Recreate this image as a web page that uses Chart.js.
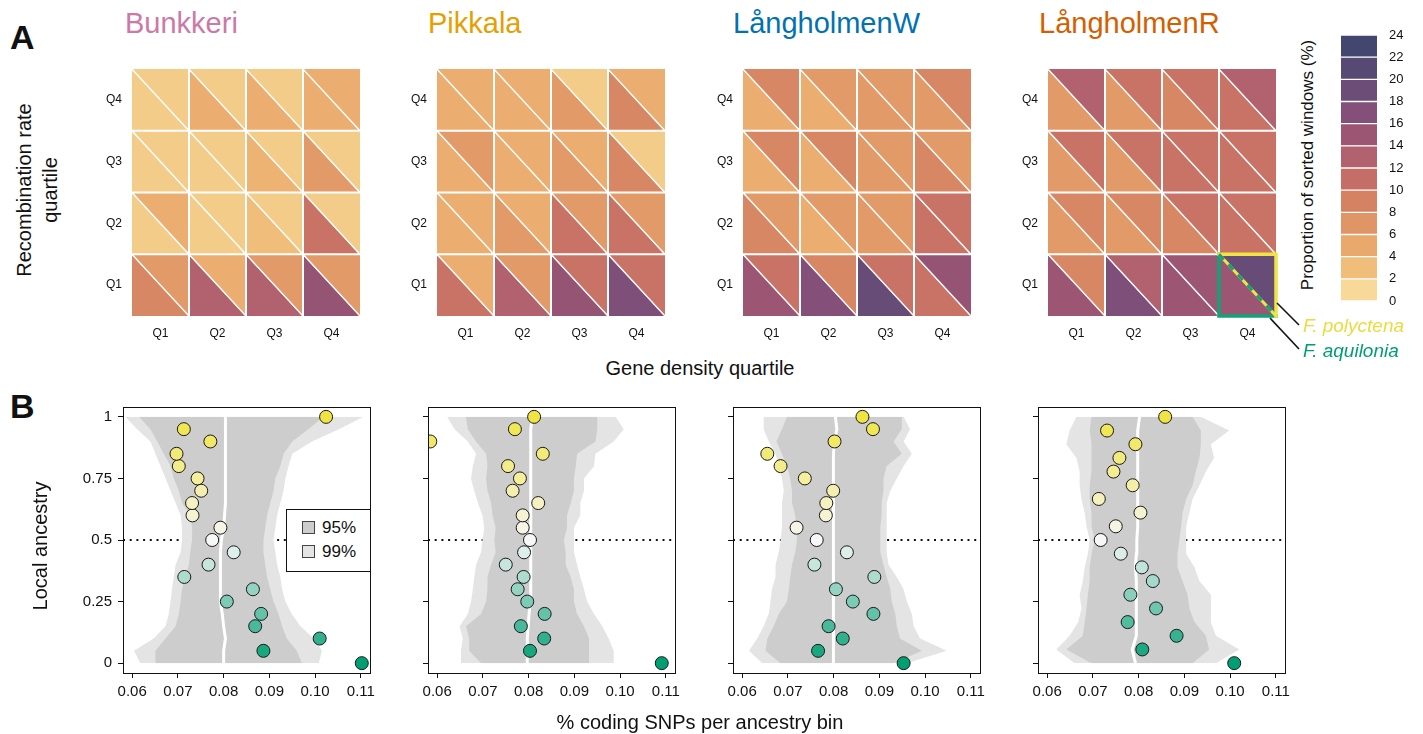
<!DOCTYPE html>
<html lang="en">
<head>
    <meta charset="UTF-8">
    <title>Sorted windows and coding SNPs by local ancestry</title>
    <script src="https://cdn.jsdelivr.net/npm/chart.js"></script>
    <style>
        body { margin: 0; background: #fff; font-family: Helvetica, Arial, "Liberation Sans", sans-serif; color: #111; }
        #fig { position: relative; width: 1423px; height: 734px; overflow: hidden; }
        canvas, .txt, .legend, svg { position: absolute; }
        .txt { white-space: nowrap; line-height: 1; }
        .mid { transform: translate(-50%, -50%); }
        .rot { transform: translate(-50%, -50%) rotate(-90deg); text-align: center; }
        .title { font-size: 29px; }
        .panel { font-size: 34px; font-weight: bold; }
        .axis { font-size: 20px; }
        .legend { left: 286px; top: 509px; width: 83px; height: 61px; border: 1px solid #111; background: #fff; }
        .legend .sw { position: absolute; left: 15px; width: 11px; height: 11px; border: 1px solid #444; }
        .legend .lt { position: absolute; left: 35px; font-size: 17px; line-height: 1; }
    </style>
</head>
<body>
<div id="fig">
    <div class="txt panel" style="left:10px;top:20px">A</div>
    <div class="txt panel" style="left:10px;top:389px">B</div>

    <div class="txt title" style="left:125px;top:9px;color:#CC79A7">Bunkkeri</div>
    <div class="txt title" style="left:428px;top:9px;color:#E69F00">Pikkala</div>
    <div class="txt title" style="left:733px;top:9px;color:#0072B2">LångholmenW</div>
    <div class="txt title" style="left:1039px;top:9px;color:#D55E00">LångholmenR</div>

    <canvas id="heat0" width="276" height="297" style="left:92px;top:49px"></canvas>
    <canvas id="heat1" width="276" height="297" style="left:397px;top:49px"></canvas>
    <canvas id="heat2" width="276" height="297" style="left:703px;top:49px"></canvas>
    <canvas id="heat3" width="276" height="297" style="left:1008px;top:49px"></canvas>
    <canvas id="colorbar" width="84" height="308" style="left:1341px;top:13px"></canvas>

    <div class="txt axis rot" style="left:37px;top:190px;line-height:1.3">Recombination rate<br>quartile</div>
    <div class="txt axis mid" style="left:700px;top:368px">Gene density quartile</div>
    <div class="txt rot" style="left:1307px;top:165px;font-size:17px">Proportion of sorted windows (%)</div>

    <svg width="1423" height="734" style="left:0;top:0;pointer-events:none">
        <line x1="1277" y1="303" x2="1299" y2="325" stroke="#111" stroke-width="1.6"/>
        <line x1="1270" y1="318" x2="1299" y2="349" stroke="#111" stroke-width="1.6"/>
    </svg>
    <div class="txt" style="left:1303px;top:316px;font-size:19px;font-style:italic;color:#EADB3E">F. polyctena</div>
    <div class="txt" style="left:1303px;top:341px;font-size:19px;font-style:italic;color:#009E73">F. aquilonia</div>

    <canvas id="snp0" width="313" height="326" style="left:73px;top:387px"></canvas>
    <canvas id="snp1" width="313" height="326" style="left:378px;top:387px"></canvas>
    <canvas id="snp2" width="313" height="326" style="left:683px;top:387px"></canvas>
    <canvas id="snp3" width="313" height="326" style="left:988px;top:387px"></canvas>

    <div class="legend">
        <div class="sw" style="top:11px;background:#CDCDCD"></div>
        <div class="lt" style="top:9px">95%</div>
        <div class="sw" style="top:35px;background:#E4E4E4"></div>
        <div class="lt" style="top:33px">99%</div>
    </div>

    <div class="txt axis rot" style="left:40px;top:546px">Local ancestry</div>
    <div class="txt axis mid" style="left:700px;top:722px">% coding SNPs per ancestry bin</div>
</div>

<script>
    // ---- Panel A: proportion of sorted windows (%), rows = recombination Q1..Q4, cols = gene density Q1..Q4
    const quartiles = ['Q1', 'Q2', 'Q3', 'Q4'];
    const legendBreaks = [0, 2, 4, 6, 8, 10, 12, 14, 16, 18, 20, 22, 24];

    const bunkkeriPolyctena = [[6.5, 4.5, 6.5, 6.5], [4.5, 2, 2, 2], [2, 2, 2, 2], [2, 2, 2, 4.5]];
    const bunkkeriAquilonia = [[8.5, 13, 13, 15.5], [2, 2, 3, 10.5], [2, 2, 4, 6.5], [2, 4.5, 4.5, 4.5]];
    const pikkalaPolyctena = [[4.5, 6.5, 10.5, 10.5], [4.5, 4.5, 6.5, 6.5], [6.5, 4.5, 4.5, 2], [4.5, 4.5, 2, 4.5]];
    const pikkalaAquilonia = [[10.5, 13, 15.5, 17.5], [4.5, 6.5, 10.5, 10.5], [4.5, 4.5, 6.5, 8.5], [4.5, 4.5, 6.5, 8.5]];
    const langWPolyctena = [[10.5, 8.5, 10.5, 15.5], [6.5, 6.5, 6.5, 10.5], [8.5, 8.5, 6.5, 6.5], [8.5, 6.5, 6.5, 8.5]];
    const langWAquilonia = [[15, 17, 19.5, 10.5], [8.5, 4.5, 6.5, 10.5], [4.5, 4.5, 6.5, 8.5], [4.5, 4.5, 6.5, 6.5]];
    const langRPolyctena = [[8.5, 13, 15, 19.5], [8.5, 8.5, 10.5, 10.5], [10.5, 10.5, 10.5, 10.5], [13, 10.5, 10.5, 13]];
    const langRAquilonia = [[15, 17.5, 15, 15], [6.5, 6.5, 8.5, 10.5], [6.5, 6.5, 10.5, 10.5], [6.5, 6.5, 8.5, 10.5]];

    // ---- Panel B: % coding SNPs per local ancestry bin
    const ancestry21 = [0, 0.05, 0.1, 0.15, 0.2, 0.25, 0.3, 0.35, 0.4, 0.45, 0.5, 0.55, 0.6, 0.65, 0.7, 0.75, 0.8, 0.85, 0.9, 0.95, 1];
    const ancestry19 = [0, 0.0556, 0.1111, 0.1667, 0.2222, 0.2778, 0.3333, 0.3889, 0.4444, 0.5, 0.5556, 0.6111, 0.6667, 0.7222, 0.7778, 0.8333, 0.8889, 0.9444, 1];
    const xTicks = [0.06, 0.07, 0.08, 0.09, 0.10, 0.11];
    const yTicks = [0, 0.25, 0.5, 0.75, 1];
    const yTickLabels = ['0', '0.25', '0.5', '0.75', '1'];

    const bunkkeriSnp = [0.1102, 0.0887, 0.1010, 0.0869, 0.0882, 0.0807, 0.0864, 0.0714, 0.0767, 0.0822, 0.0775, 0.0793, 0.0732, 0.0731, 0.0751, 0.0743, 0.0702, 0.0697, 0.0771, 0.0713, 0.1024];
    const bunkkeriLo99 = [0.0618, 0.0604, 0.0647, 0.0673, 0.0680, 0.0684, 0.0687, 0.0691, 0.0695, 0.0706, 0.0709, 0.0709, 0.0706, 0.0695, 0.0684, 0.0673, 0.0662, 0.0651, 0.0640, 0.0611, 0.0585];
    const bunkkeriLo95 = [0.0651, 0.0651, 0.0673, 0.0695, 0.0702, 0.0706, 0.0709, 0.0716, 0.0724, 0.0727, 0.0731, 0.0731, 0.0727, 0.0709, 0.0702, 0.0691, 0.0684, 0.0669, 0.0655, 0.0640, 0.0615];
    const bunkkeriMedian = [0.0800, 0.0800, 0.0804, 0.0800, 0.0797, 0.0793, 0.0793, 0.0793, 0.0793, 0.0793, 0.0795, 0.0800, 0.0802, 0.0804, 0.0804, 0.0804, 0.0804, 0.0804, 0.0804, 0.0804, 0.0804];
    const bunkkeriHi95 = [0.0971, 0.0960, 0.0938, 0.0928, 0.0920, 0.0909, 0.0902, 0.0895, 0.0891, 0.0887, 0.0887, 0.0891, 0.0895, 0.0902, 0.0909, 0.0913, 0.0924, 0.0931, 0.0950, 0.0985, 0.1018];
    const bunkkeriHi99 = [0.1008, 0.1015, 0.0997, 0.0968, 0.0949, 0.0935, 0.0928, 0.0924, 0.0917, 0.0913, 0.0909, 0.0913, 0.0917, 0.0924, 0.0931, 0.0935, 0.0942, 0.0950, 0.0993, 0.1052, 0.1106];

    const pikkalaSnp = [0.1091, 0.0803, 0.0834, 0.0783, 0.0835, 0.0797, 0.0776, 0.0789, 0.0750, 0.0790, 0.0803, 0.0787, 0.0787, 0.0821, 0.0765, 0.0781, 0.0755, 0.0831, 0.0585, 0.0770, 0.0812];
    const pikkalaLo99 = [0.0652, 0.0652, 0.0656, 0.0649, 0.0667, 0.0674, 0.0678, 0.0681, 0.0685, 0.0696, 0.0699, 0.0703, 0.0699, 0.0689, 0.0681, 0.0674, 0.0678, 0.0685, 0.0667, 0.0638, 0.0622];
    const pikkalaLo95 = [0.0696, 0.0670, 0.0670, 0.0663, 0.0696, 0.0707, 0.0710, 0.0710, 0.0718, 0.0728, 0.0725, 0.0728, 0.0721, 0.0718, 0.0710, 0.0707, 0.0710, 0.0707, 0.0685, 0.0667, 0.0663];
    const pikkalaMedian = [0.0797, 0.0797, 0.0797, 0.0799, 0.0801, 0.0803, 0.0803, 0.0803, 0.0803, 0.0805, 0.0805, 0.0805, 0.0805, 0.0805, 0.0805, 0.0805, 0.0805, 0.0805, 0.0805, 0.0805, 0.0808];
    const pikkalaHi95 = [0.0932, 0.0932, 0.0932, 0.0921, 0.0906, 0.0899, 0.0899, 0.0892, 0.0881, 0.0881, 0.0877, 0.0884, 0.0884, 0.0892, 0.0899, 0.0899, 0.0903, 0.0906, 0.0946, 0.0950, 0.0950];
    const pikkalaHi99 = [0.0986, 0.0986, 0.0975, 0.0961, 0.0943, 0.0928, 0.0921, 0.0913, 0.0906, 0.0899, 0.0899, 0.0899, 0.0913, 0.0913, 0.0921, 0.0921, 0.0943, 0.0946, 0.0986, 0.1008, 0.0990];

    const langWSnp = [0.0953, 0.0766, 0.0820, 0.0789, 0.0887, 0.0842, 0.0805, 0.0889, 0.0758, 0.0829, 0.0763, 0.0719, 0.0783, 0.0784, 0.0799, 0.0737, 0.0684, 0.0655, 0.0802, 0.0886, 0.0863];
    const langWLo99 = [0.0644, 0.0615, 0.0633, 0.0647, 0.0658, 0.0662, 0.0665, 0.0673, 0.0673, 0.0680, 0.0684, 0.0687, 0.0687, 0.0687, 0.0691, 0.0687, 0.0680, 0.0673, 0.0658, 0.0647, 0.0647];
    const langWLo95 = [0.0684, 0.0651, 0.0655, 0.0669, 0.0680, 0.0698, 0.0702, 0.0705, 0.0709, 0.0716, 0.0720, 0.0720, 0.0716, 0.0709, 0.0709, 0.0705, 0.0698, 0.0687, 0.0675, 0.0687, 0.0698];
    const langWMedian = [0.0799, 0.0799, 0.0799, 0.0799, 0.0799, 0.0799, 0.0799, 0.0799, 0.0800, 0.0800, 0.0800, 0.0800, 0.0800, 0.0800, 0.0800, 0.0800, 0.0800, 0.0800, 0.0802, 0.0807, 0.0804];
    const langWHi95 = [0.0931, 0.0993, 0.0945, 0.0938, 0.0935, 0.0927, 0.0924, 0.0916, 0.0909, 0.0902, 0.0902, 0.0902, 0.0905, 0.0905, 0.0909, 0.0909, 0.0916, 0.0949, 0.0931, 0.0949, 0.0949];
    const langWHi99 = [0.0960, 0.1047, 0.0989, 0.0975, 0.0971, 0.0960, 0.0953, 0.0938, 0.0920, 0.0916, 0.0916, 0.0916, 0.0916, 0.0916, 0.0924, 0.0938, 0.0953, 0.0971, 0.0953, 0.0967, 0.0953];

    const langRSnp = [0.1009, 0.0808, 0.0883, 0.0776, 0.0838, 0.0782, 0.0831, 0.0807, 0.0761, 0.0717, 0.0750, 0.0804, 0.0713, 0.0787, 0.0745, 0.0758, 0.0793, 0.0731, 0.0858];
    const langRLo99 = [0.0660, 0.0620, 0.0649, 0.0668, 0.0675, 0.0671, 0.0678, 0.0682, 0.0689, 0.0693, 0.0686, 0.0682, 0.0675, 0.0671, 0.0671, 0.0664, 0.0642, 0.0649, 0.0664];
    const langRLo95 = [0.0697, 0.0642, 0.0678, 0.0682, 0.0686, 0.0689, 0.0693, 0.0693, 0.0697, 0.0704, 0.0697, 0.0697, 0.0693, 0.0693, 0.0697, 0.0697, 0.0697, 0.0693, 0.0697];
    const langRMedian = [0.0793, 0.0786, 0.0795, 0.0795, 0.0795, 0.0795, 0.0795, 0.0793, 0.0795, 0.0796, 0.0798, 0.0798, 0.0798, 0.0798, 0.0798, 0.0798, 0.0798, 0.0798, 0.0802];
    const langRHi95 = [0.0918, 0.0954, 0.0947, 0.0922, 0.0911, 0.0907, 0.0896, 0.0885, 0.0885, 0.0889, 0.0893, 0.0896, 0.0904, 0.0918, 0.0925, 0.0933, 0.0936, 0.0936, 0.0918];
    const langRHi99 = [0.0969, 0.1020, 0.0969, 0.0958, 0.0958, 0.0958, 0.0933, 0.0922, 0.0904, 0.0904, 0.0904, 0.0911, 0.0918, 0.0933, 0.0947, 0.0965, 0.0958, 0.0998, 0.0936];

    // ---- styling
    const sunset = ['#F8D99A', '#F0BE7A', '#E9A86C', '#E09566', '#D58263', '#C56E67',
                    '#B2616E', '#9C5673', '#844F78', '#6B4D78', '#564A75', '#434770'];
    const yellow = '#F0E442', green = '#009E73';

    Chart.defaults.font.family = 'Helvetica, Arial, "Liberation Sans", sans-serif';
    Chart.defaults.color = '#111';

    function hexToRgb(h) {
        const n = parseInt(h.slice(1), 16);
        return [(n >> 16) & 255, (n >> 8) & 255, n & 255];
    }
    function mix(a, b, t) {
        const p = hexToRgb(a), q = hexToRgb(b);
        const c = p.map((v, i) => Math.round(v + (q[i] - v) * t));
        return `rgb(${c[0]},${c[1]},${c[2]})`;
    }
    function heatColor(v) {
        const pos = Math.min(Math.max((v - 1) / 2, 0), sunset.length - 1);
        const i = Math.min(Math.floor(pos), sunset.length - 2);
        return mix(sunset[i], sunset[i + 1], pos - i);
    }
    function ancestryColor(a) {
        return a >= 0.5 ? mix('#F7F7F7', yellow, (a - 0.5) / 0.5) : mix('#F7F7F7', green, (0.5 - a) / 0.5);
    }

    const baseOptions = {
        responsive: false,
        animation: false,
        devicePixelRatio: 1,
        events: [],
        plugins: { legend: { display: false }, tooltip: { enabled: false } },
        elements: { line: { tension: 0 } }
    };

    // ---- heatmaps
    function heatmap(id, poly, aqui, highlight) {
        const datasets = [];
        poly.forEach((row, r) => row.forEach((v, c) => {
            const diag = [{ x: c, y: r + 1 }, { x: c + 1, y: r }];
            datasets.push({ data: diag, fill: { target: { value: r + 1 } }, backgroundColor: heatColor(v),
                            borderColor: '#fff', borderWidth: 1.2, pointRadius: 0, order: 10 });
            datasets.push({ data: diag, fill: { target: { value: r } }, backgroundColor: heatColor(aqui[r][c]),
                            borderColor: '#fff', borderWidth: 1.2, pointRadius: 0, order: 10 });
        }));
        for (let k = 1; k < quartiles.length; k++) {
            datasets.push({ data: [{ x: k, y: 0 }, { x: k, y: quartiles.length }], borderColor: '#fff', borderWidth: 2, pointRadius: 0, order: 5 });
            datasets.push({ data: [{ x: 0, y: k }, { x: quartiles.length, y: k }], borderColor: '#fff', borderWidth: 2, pointRadius: 0, order: 5 });
        }
        if (highlight) {
            const [c, r] = highlight;
            const line = { pointRadius: 0, fill: false, clip: false, borderWidth: 3.5, borderCapStyle: 'square', order: 0 };
            datasets.push({ ...line, data: [{ x: c, y: r + 1 }, { x: c + 1, y: r + 1 }, { x: c + 1, y: r }], borderColor: yellow });
            datasets.push({ ...line, data: [{ x: c, y: r + 1 }, { x: c, y: r }, { x: c + 1, y: r }], borderColor: '#12A279' });
            datasets.push({ ...line, data: [{ x: c, y: r + 1 }, { x: c + 1, y: r }], borderColor: yellow, borderWidth: 3, borderCapStyle: 'butt', order: -1 });
            datasets.push({ ...line, data: [{ x: c, y: r + 1 }, { x: c + 1, y: r }], borderColor: '#12A279', borderWidth: 3, borderDash: [7, 7], borderCapStyle: 'butt', order: -2 });
        }
        const axis = (fit) => ({
            type: 'linear', min: 0, max: quartiles.length,
            afterBuildTicks: s => { s.ticks = quartiles.map((q, i) => ({ value: i + 0.5 })); },
            ticks: { callback: (v, i) => quartiles[i], padding: 10, font: { size: 12 }, maxRotation: 0, autoSkip: false },
            grid: { display: false, drawTicks: false },
            border: { display: false },
            afterFit: fit
        });
        new Chart(document.getElementById(id), {
            type: 'line',
            data: { datasets },
            options: {
                ...baseOptions,
                layout: { padding: { left: 0, top: 20, right: 8, bottom: 0 } },
                scales: { x: axis(s => { s.height = 30; }), y: axis(s => { s.width = 40; }) }
            }
        });
    }

    heatmap('heat0', bunkkeriPolyctena, bunkkeriAquilonia);
    heatmap('heat1', pikkalaPolyctena, pikkalaAquilonia);
    heatmap('heat2', langWPolyctena, langWAquilonia);
    heatmap('heat3', langRPolyctena, langRAquilonia, [3, 0]);

    // ---- colour key
    new Chart(document.getElementById('colorbar'), {
        type: 'bar',
        data: {
            labels: [''],
            datasets: legendBreaks.slice(1).map((b, i) => ({
                data: [b - legendBreaks[i]], backgroundColor: sunset[i], borderColor: '#fff',
                borderWidth: { top: 1, bottom: 1, left: 0, right: 0 }, borderSkipped: false,
                barPercentage: 1, categoryPercentage: 1
            }))
        },
        options: {
            ...baseOptions,
            layout: { padding: { left: 0, top: 22, right: 0, bottom: 20 } },
            scales: {
                x: { stacked: true, display: false },
                y: {
                    stacked: true, position: 'right', min: legendBreaks[0], max: legendBreaks[legendBreaks.length - 1],
                    afterBuildTicks: s => { s.ticks = legendBreaks.map(v => ({ value: v })); },
                    ticks: { padding: 12, font: { size: 13 } },
                    grid: { display: false, drawTicks: false }, border: { display: false },
                    afterFit: s => { s.width = 48; }
                }
            }
        }
    });

    // ---- ancestry panels
    const framePlugin = {
        id: 'frame',
        afterDraw(chart) {
            const { ctx, chartArea: a } = chart;
            ctx.save();
            ctx.strokeStyle = '#111';
            ctx.lineWidth = 1;
            ctx.strokeRect(Math.round(a.left) + 0.5, Math.round(a.top) + 0.5, Math.round(a.width), Math.round(a.height));
            ctx.restore();
        }
    };

    const xMin = 0.058, xMax = 0.112, yMin = -0.04, yMax = 1.04;

    function ancestryPanel(id, levels, snp, lo99, lo95, median, hi95, hi99, showYLabels) {
        const pts = arr => arr.map((x, i) => ({ x, y: levels[i] }));
        const datasets = [
            { data: pts(snp), showLine: false, pointRadius: 6.5, pointBorderWidth: 1, pointBorderColor: '#1a1a1a',
              pointBackgroundColor: levels.map(ancestryColor), clip: 0, order: 0 },
            { data: pts(median), borderColor: '#fff', borderWidth: 3, pointRadius: 0, order: 1 },
            { data: pts(lo95), borderWidth: 0, pointRadius: 0, order: 2 },
            { data: pts(hi95), borderWidth: 0, pointRadius: 0, fill: { target: 2 }, backgroundColor: '#CDCDCD', order: 2 },
            { data: pts(lo99), borderWidth: 0, pointRadius: 0, order: 3 },
            { data: pts(hi99), borderWidth: 0, pointRadius: 0, fill: { target: 4 }, backgroundColor: '#E4E4E4', order: 3 },
            { data: [{ x: xMin, y: 0.5 }, { x: xMax, y: 0.5 }], borderColor: '#111', borderWidth: 2,
              borderDash: [2, 4.7], pointRadius: 0, order: 4 }
        ];
        new Chart(document.getElementById(id), {
            type: 'line',
            data: { datasets },
            options: {
                ...baseOptions,
                indexAxis: 'y',
                layout: { padding: { left: 0, top: 20, right: 16, bottom: 0 } },
                scales: {
                    x: {
                        type: 'linear', min: xMin, max: xMax, position: 'bottom',
                        afterBuildTicks: s => { s.ticks = xTicks.map(v => ({ value: v })); },
                        ticks: { callback: v => v.toFixed(2), padding: 5, font: { size: 15 }, maxRotation: 0, autoSkip: false },
                        grid: { drawOnChartArea: false, drawTicks: true, tickLength: 5, color: '#111' },
                        border: { display: false },
                        afterFit: s => { s.height = 40; }
                    },
                    y: {
                        type: 'linear', min: yMin, max: yMax, position: 'left',
                        afterBuildTicks: s => { s.ticks = yTicks.map(v => ({ value: v })); },
                        ticks: { callback: (v, i) => showYLabels ? yTickLabels[i] : '', padding: 6, font: { size: 15 }, autoSkip: false },
                        grid: { drawOnChartArea: false, drawTicks: true, tickLength: 5, color: '#111' },
                        border: { display: false },
                        afterFit: s => { s.width = 50; }
                    }
                }
            },
            plugins: [framePlugin]
        });
    }

    ancestryPanel('snp0', ancestry21, bunkkeriSnp, bunkkeriLo99, bunkkeriLo95, bunkkeriMedian, bunkkeriHi95, bunkkeriHi99, true);
    ancestryPanel('snp1', ancestry21, pikkalaSnp, pikkalaLo99, pikkalaLo95, pikkalaMedian, pikkalaHi95, pikkalaHi99, false);
    ancestryPanel('snp2', ancestry21, langWSnp, langWLo99, langWLo95, langWMedian, langWHi95, langWHi99, false);
    ancestryPanel('snp3', ancestry19, langRSnp, langRLo99, langRLo95, langRMedian, langRHi95, langRHi99, false);
</script>
</body>
</html>
